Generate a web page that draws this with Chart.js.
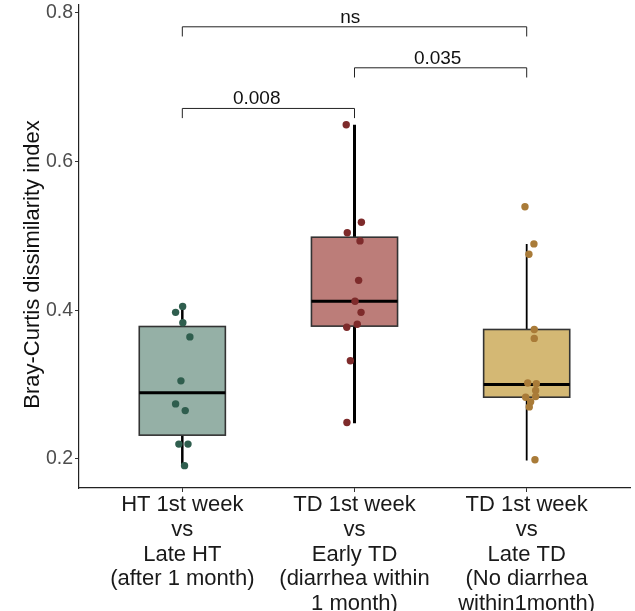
<!DOCTYPE html>
<html>
<head>
<meta charset="utf-8">
<script src="https://cdn.jsdelivr.net/npm/chart.js@4.4.1/dist/chart.umd.min.js"></script>
<style>
  html, body { margin: 0; padding: 0; background: #fff; }
  canvas { display: block; }
</style>
</head>
<body>
<canvas id="chart" width="635" height="611"></canvas>
<script>
// group labels (one line per array entry)
const groupLabels = [
  ['HT 1st week', 'vs', 'Late HT', '(after 1 month)'],
  ['TD 1st week', 'vs', 'Early TD', '(diarrhea within', '1 month)'],
  ['TD 1st week', 'vs', 'Late TD', '(No diarrhea', 'within1month)']
];

// box summary per group
const whiskerLow  = [0.191, 0.248, 0.198];
const q1          = [0.232, 0.3785, 0.283];
const median      = [0.289, 0.412, 0.300];
const q3          = [0.378, 0.498, 0.374];
const whiskerHigh = [0.405, 0.649, 0.489];

// individual samples + horizontal jitter (in group units)
const htValues = [0.405, 0.397, 0.383, 0.364, 0.305, 0.274, 0.265, 0.220, 0.220, 0.191];
const htJitter = [0.002, -0.039, 0.003, 0.044, -0.008, -0.039, 0.017, -0.020, 0.033, 0.013];
const earlyValues = [0.649, 0.518, 0.504, 0.493, 0.440, 0.412, 0.397, 0.381, 0.377, 0.332, 0.249];
const earlyJitter = [-0.048, 0.040, -0.042, 0.032, 0.024, 0.003, 0.038, 0.016, -0.045, -0.024, -0.044];
const lateValues = [0.539, 0.489, 0.475, 0.374, 0.362, 0.302, 0.301, 0.292, 0.284, 0.283, 0.277, 0.270, 0.199];
const lateJitter = [-0.010, 0.042, 0.013, 0.044, 0.044, 0.006, 0.056, 0.052, 0.052, -0.006, 0.023, 0.015, 0.048];

// pairwise comparisons
const bracketFrom = [1, 2, 1];
const bracketTo = [2, 3, 3];
const bracketY = [0.671, 0.7256, 0.7807];
const bracketText = ['0.008', '0.035', 'ns'];
const bracketTextX = [1.432, 2.483, 1.975];

const yTicks = [0.2, 0.4, 0.6, 0.8];

const FONT = "'Liberation Sans', Arial, sans-serif";
const boxFill = ['#95b0a6', '#bc7d79', '#d4b874'];
const pointColor = ['#2f5e4e', '#7e2b2b', '#a97b38'];
const whiskerWidth = [2.5, 3, 1.8];

function toPoints(values, jitter, group) {
  return values.map((v, i) => ({ x: group + jitter[i], y: v }));
}

const boxPlugin = {
  id: 'boxes',
  beforeDatasetsDraw(chart) {
    const { ctx, scales: { x, y } } = chart;
    ctx.save();
    for (let i = 0; i < median.length; i++) {
      const c = i + 1;
      const cx = x.getPixelForValue(c);
      const l = x.getPixelForValue(c - 0.25);
      const r = x.getPixelForValue(c + 0.25);
      // whiskers
      ctx.strokeStyle = '#000';
      ctx.lineWidth = whiskerWidth[i];
      ctx.beginPath();
      ctx.moveTo(cx, y.getPixelForValue(whiskerLow[i]));
      ctx.lineTo(cx, y.getPixelForValue(q1[i]));
      ctx.moveTo(cx, y.getPixelForValue(q3[i]));
      ctx.lineTo(cx, y.getPixelForValue(whiskerHigh[i]));
      ctx.stroke();
      // box
      const top = y.getPixelForValue(q3[i]);
      const bot = y.getPixelForValue(q1[i]);
      ctx.fillStyle = boxFill[i];
      ctx.fillRect(l, top, r - l, bot - top);
      ctx.strokeStyle = '#333';
      ctx.lineWidth = 1.6;
      ctx.strokeRect(l, top, r - l, bot - top);
      // median
      const m = y.getPixelForValue(median[i]);
      ctx.strokeStyle = '#000';
      ctx.lineWidth = 3;
      ctx.beginPath();
      ctx.moveTo(l, m);
      ctx.lineTo(r, m);
      ctx.stroke();
    }
    ctx.restore();
  },
  afterDraw(chart) {
    const { ctx, chartArea, scales: { x, y } } = chart;
    ctx.save();
    // significance brackets
    ctx.strokeStyle = '#222';
    ctx.lineWidth = 1;
    ctx.fillStyle = '#111';
    ctx.font = `19px ${FONT}`;
    ctx.textAlign = 'center';
    ctx.textBaseline = 'alphabetic';
    for (let i = 0; i < bracketText.length; i++) {
      const x0 = x.getPixelForValue(bracketFrom[i]);
      const x1 = x.getPixelForValue(bracketTo[i]);
      const yy = y.getPixelForValue(bracketY[i]);
      const drop = y.getPixelForValue(bracketY[i] - 0.013);
      ctx.beginPath();
      ctx.moveTo(x0, drop);
      ctx.lineTo(x0, yy);
      ctx.lineTo(x1, yy);
      ctx.lineTo(x1, drop);
      ctx.stroke();
      ctx.fillText(bracketText[i], x.getPixelForValue(bracketTextX[i]), yy - 4);
    }
    // y axis title
    ctx.translate(33, (chartArea.top + chartArea.bottom) / 2 + 18);
    ctx.rotate(-Math.PI / 2);
    ctx.font = `22px ${FONT}`;
    ctx.textBaseline = 'middle';
    ctx.fillStyle = '#111';
    ctx.fillText('Bray-Curtis dissimilarity index', 0, 0);
    ctx.restore();
  }
};

new Chart(document.getElementById('chart'), {
  type: 'scatter',
  data: {
    datasets: [
      { data: toPoints(htValues, htJitter, 1), backgroundColor: pointColor[0] },
      { data: toPoints(earlyValues, earlyJitter, 2), backgroundColor: pointColor[1] },
      { data: toPoints(lateValues, lateJitter, 3), backgroundColor: pointColor[2] }
    ]
  },
  options: {
    responsive: false,
    animation: false,
    layout: { padding: { left: 0, right: 5, top: 5, bottom: 0 } },
    elements: { point: { radius: 3.7, borderWidth: 0, hoverRadius: 3.7 } },
    plugins: { legend: { display: false }, tooltip: { enabled: false } },
    scales: {
      x: {
        type: 'linear',
        min: 0.4,
        max: 3.6,
        afterBuildTicks: s => { s.ticks = [1, 2, 3].map(v => ({ value: v })); },
        afterFit: s => { s.height = 123; s.paddingLeft = 0; s.paddingRight = 0; },
        border: { display: true, color: '#222', width: 1.2 },
        grid: { display: true, drawOnChartArea: false, tickLength: 4, color: '#333' },
        ticks: {
          autoSkip: false,
          maxRotation: 0,
          padding: 1,
          color: '#1a1a1a',
          font: { family: FONT, size: 22, lineHeight: 1.12 },
          callback: v => groupLabels[v - 1]
        }
      },
      y: {
        min: 0.161,
        max: 0.81,
        afterBuildTicks: s => { s.ticks = yTicks.map(v => ({ value: v })); },
        afterFit: s => { s.width = 79; s.paddingTop = 0; s.paddingBottom = 0; },
        border: { display: true, color: '#222', width: 1.2 },
        grid: { display: true, drawOnChartArea: false, tickLength: 4, color: '#333' },
        ticks: {
          padding: 2,
          color: '#4d4d4d',
          font: { family: FONT, size: 19.5 },
          callback: v => v.toFixed(1)
        }
      }
    }
  },
  plugins: [boxPlugin]
});
</script>
</body>
</html>
